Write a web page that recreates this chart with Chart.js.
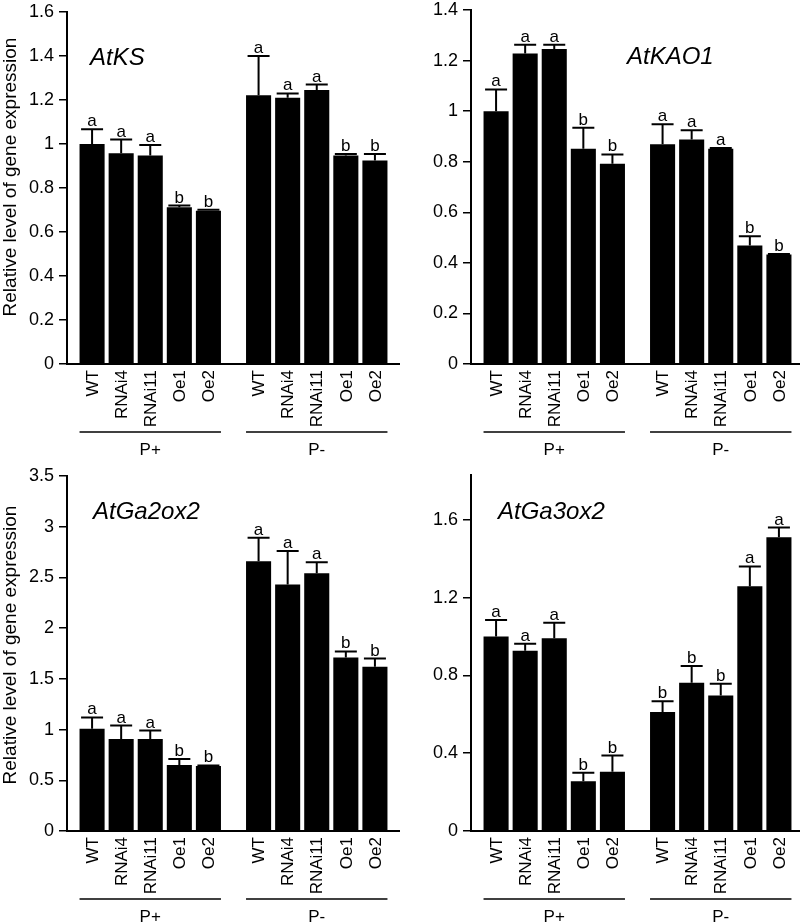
<!DOCTYPE html>
<html>
<head>
<meta charset="utf-8">
<script src="https://cdn.jsdelivr.net/npm/chart.js@4.4.1/dist/chart.umd.min.js"></script>
<style>
  html, body { margin: 0; padding: 0; background: #fff; overflow: hidden; width: 800px; height: 923px; }
  canvas { position: absolute; }
</style>
</head>
<body>
<canvas id="c1" width="400" height="465" style="left:0;top:0"></canvas>
<canvas id="c2" width="404" height="465" style="left:400px;top:0"></canvas>
<canvas id="c3" width="400" height="458" style="left:0;top:465px"></canvas>
<canvas id="c4" width="404" height="458" style="left:400px;top:465px"></canvas>
<script>
const genotypes = ['WT', 'RNAi4', 'RNAi11', 'Oe1', 'Oe2'];
const conditions = ['P+', 'P-'];

// values ordered P+ (WT..Oe2) then P- (WT..Oe2)
const ksMean = [1.00, 0.958, 0.948, 0.712, 0.697, 1.222, 1.21, 1.246, 0.948, 0.925];
const ksErr = [0.067, 0.062, 0.047, 0.008, 0.004, 0.178, 0.02, 0.024, 0.007, 0.03];
const ksLetters = ['a', 'a', 'a', 'b', 'b', 'a', 'a', 'a', 'b', 'b'];

const kaoMean = [1.00, 1.228, 1.246, 0.851, 0.792, 0.869, 0.888, 0.851, 0.469, 0.433];
const kaoErr = [0.086, 0.035, 0.017, 0.083, 0.037, 0.079, 0.036, 0.003, 0.036, 0.002];
const kaoLetters = ['a', 'a', 'a', 'b', 'b', 'a', 'a', 'a', 'b', 'b'];

const ga2Mean = [1.007, 0.906, 0.906, 0.65, 0.64, 2.66, 2.43, 2.54, 1.71, 1.62];
const ga2Err = [0.113, 0.134, 0.084, 0.06, 0.006, 0.23, 0.33, 0.11, 0.06, 0.08];
const ga2Letters = ['a', 'a', 'a', 'b', 'b', 'a', 'a', 'a', 'b', 'b'];

const ga3Mean = [1.00, 0.927, 0.991, 0.256, 0.304, 0.612, 0.762, 0.697, 1.258, 1.51];
const ga3Err = [0.084, 0.036, 0.079, 0.044, 0.084, 0.055, 0.086, 0.06, 0.102, 0.05];
const ga3Letters = ['a', 'a', 'a', 'b', 'b', 'b', 'b', 'b', 'a', 'a'];

const yTitle = 'Relative level of gene expression';
const FONT = '"Liberation Sans", Arial, sans-serif';

const panels = [
  { id: 'c1', gene: 'AtKS', mean: ksMean, err: ksErr, letters: ksLetters, max: 1.6, step: 0.2,
    title: true, titleY: 177, axisW: 67, padTop: 12, xH: 101, geneX: 90, geneY: 65 },
  { id: 'c2', gene: 'AtKAO1', mean: kaoMean, err: kaoErr, letters: kaoLetters, max: 1.4, step: 0.2,
    title: false, axisW: 71, padTop: 10, xH: 101, geneX: 227, geneY: 64 },
  { id: 'c3', gene: 'AtGa2ox2', mean: ga2Mean, err: ga2Err, letters: ga2Letters, max: 3.5, step: 0.5,
    title: true, titleY: 180, axisW: 67, padTop: 11, xH: 92, geneX: 93, geneY: 54 },
  { id: 'c4', gene: 'AtGa3ox2', mean: ga3Mean, err: ga3Err, letters: ga3Letters, max: 1.83, step: 0.4,
    title: false, axisW: 71, padTop: 10, xH: 92, geneX: 98, geneY: 54 }
];

// error bars, letters, genotype labels, group underlines, gene name, axis title
const extras = {
  id: 'extras',
  afterDatasetsDraw(chart, args, opts) {
    const ctx = chart.ctx;
    const y = chart.scales.y;
    const base = y.getPixelForValue(0);
    ctx.save();
    ctx.strokeStyle = '#000';
    ctx.fillStyle = '#000';
    for (let i = 0; i < genotypes.length; i++) {
      const meta = chart.getDatasetMeta(i);
      meta.data.forEach((bar, j) => {
        const k = j * genotypes.length + i;
        const top = y.getPixelForValue(opts.mean[k] + opts.err[k]);
        ctx.lineWidth = 2;
        ctx.beginPath();
        ctx.moveTo(bar.x, bar.y);
        ctx.lineTo(bar.x, top);
        ctx.moveTo(bar.x - 11, top);
        ctx.lineTo(bar.x + 11, top);
        ctx.stroke();
        ctx.font = '17px ' + FONT;
        ctx.textAlign = 'center';
        ctx.textBaseline = 'alphabetic';
        ctx.fillText(opts.letters[k], bar.x, top - 3);
        // genotype label, rotated
        ctx.save();
        ctx.translate(bar.x, base + 6);
        ctx.rotate(-Math.PI / 2);
        ctx.textAlign = 'right';
        ctx.textBaseline = 'middle';
        ctx.fillText(genotypes[i], 0, 1);
        ctx.restore();
      });
    }
    // group underlines
    const first = chart.getDatasetMeta(0).data;
    const last = chart.getDatasetMeta(genotypes.length - 1).data;
    ctx.lineWidth = 1.5;
    for (let j = 0; j < conditions.length; j++) {
      ctx.beginPath();
      ctx.moveTo(first[j].x - first[j].width / 2, base + 68);
      ctx.lineTo(last[j].x + last[j].width / 2, base + 68);
      ctx.stroke();
    }
    ctx.font = 'italic 24px ' + FONT;
    ctx.textAlign = 'left';
    ctx.textBaseline = 'alphabetic';
    ctx.fillText(opts.gene, opts.geneX, opts.geneY);
    if (opts.title) {
      ctx.save();
      ctx.translate(11, opts.titleY);
      ctx.rotate(-Math.PI / 2);
      ctx.font = '19px ' + FONT;
      ctx.textAlign = 'center';
      ctx.textBaseline = 'middle';
      ctx.fillText(yTitle, 0, 0);
      ctx.restore();
    }
    ctx.restore();
  }
};

panels.forEach(p => {
  const datasets = genotypes.map((g, i) => ({
    label: g,
    data: conditions.map((c, j) => p.mean[j * genotypes.length + i]),
    backgroundColor: '#000',
    borderWidth: 0,
    categoryPercentage: 0.8735,
    barPercentage: 0.862
  }));
  new Chart(document.getElementById(p.id), {
    type: 'bar',
    data: { labels: conditions, datasets: datasets },
    plugins: [extras],
    options: {
      responsive: false,
      animation: false,
      layout: { padding: { left: 0, right: 0, top: p.padTop, bottom: 0 } },
      plugins: {
        legend: { display: false },
        tooltip: { enabled: false },
        extras: { mean: p.mean, err: p.err, letters: p.letters, gene: p.gene, geneX: p.geneX, geneY: p.geneY,
                  title: p.title, titleY: p.titleY }
      },
      scales: {
        x: {
          grid: { display: false, drawTicks: false },
          border: { display: true, color: '#000', width: 2 },
          ticks: { color: '#000', font: { family: FONT, size: 17 }, padding: 76, maxRotation: 0 },
          afterFit: s => { s.height = p.xH; s.paddingLeft = 0; s.paddingRight = 0; }
        },
        y: {
          min: 0,
          max: p.max,
          grid: { drawOnChartArea: false, drawTicks: true, tickLength: 8, color: '#000', lineWidth: 1.5 },
          border: { display: true, color: '#000', width: 2 },
          ticks: {
            stepSize: p.step,
            includeBounds: false,
            color: '#000',
            padding: 5,
            font: { family: FONT, size: 18 },
            callback: v => String(+v.toFixed(2))
          },
          afterFit: s => { s.width = p.axisW; s.paddingTop = 0; s.paddingBottom = 0; }
        }
      }
    }
  });
});
</script>
</body>
</html>
